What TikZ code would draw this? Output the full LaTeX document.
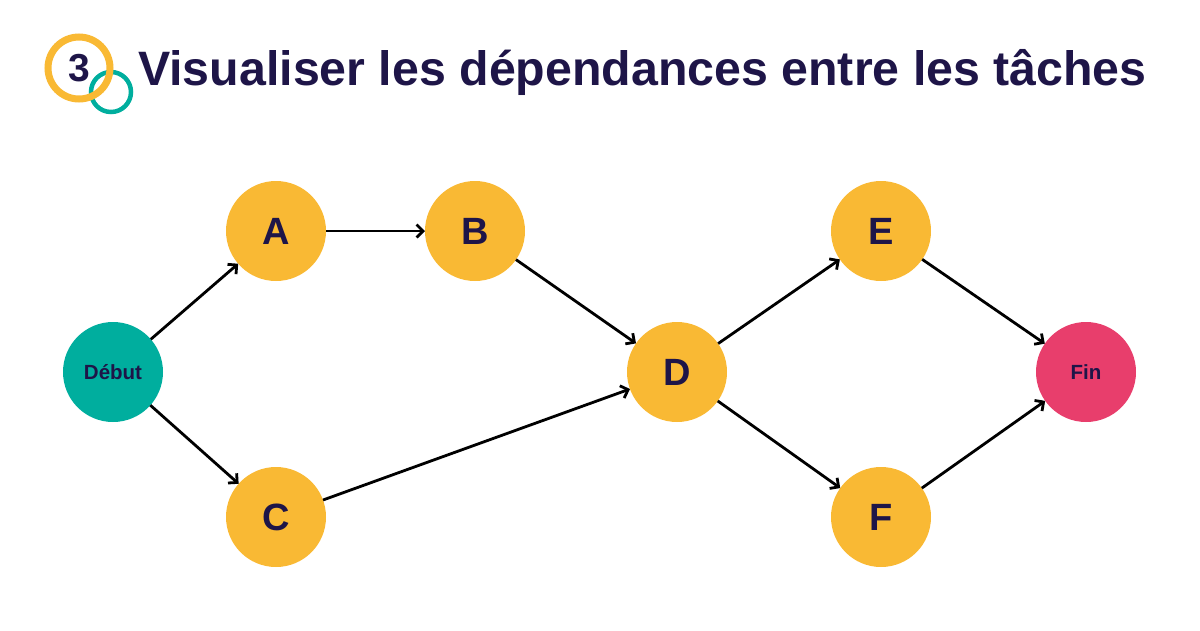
\documentclass[tikz,border=0pt]{standalone}
\usepackage{fontspec}
\setmainfont{Liberation Sans}
\usetikzlibrary{arrows.meta}
\definecolor{navy}{HTML}{1E1548}
\definecolor{gold}{HTML}{F9B934}
\definecolor{teal2}{HTML}{00AE9E}
\definecolor{rose}{HTML}{E83E6C}
\tikzset{
  task/.style={circle, fill=gold, minimum size=100pt, inner sep=0pt, outer sep=0pt, text=navy, font=\fontsize{38}{38}\selectfont\bfseries},
  endpt/.style={circle, minimum size=100pt, inner sep=0pt, outer sep=0pt, text=navy, font=\fontsize{20.5}{20.5}\selectfont\bfseries},
  link/.style={-{Straight Barb[length=6.5pt,width=13pt,line width=2.8pt]}, line width=2.8pt, black},
}
\begin{document}
\begin{tikzpicture}[x=1pt,y=-1pt]
\useasboundingbox (0,0) rectangle (1200,630);
% logo
\node[draw=teal2, line width=4.5pt, circle, minimum size=40pt, inner sep=0pt] (ringb) at (111,92) {};
\node[draw=gold, line width=7pt, circle, minimum size=62pt, inner sep=0pt] (ringa) at (79,68) {};
\node[text=navy, font=\fontsize{39}{39}\selectfont\bfseries] (num) at (79.5,68) {3};
\node[anchor=base west, text=navy, font=\fontsize{48.3}{48.3}\selectfont\bfseries, inner sep=0pt] (title) at (138,85) {Visualiser les dépendances entre les tâches};
% nodes
\node[endpt, fill=teal2] (deb) at (113,372) {Début};
\node[task] (a) at (276,231) {A};
\node[task] (b) at (475,231) {B};
\node[task] (c) at (276,517) {C};
\node[task] (d) at (677,372) {D};
\node[task] (e) at (881,231) {E};
\node[task] (f) at (881,517) {F};
\node[endpt, fill=rose] (fin) at (1086,372) {Fin};
% links
\draw[link] (deb) -- (a);
\draw[link] (deb) -- (c);
\draw[link] (a) -- (b);
\draw[link] (b) -- (d);
\draw[link] (c) -- (d);
\draw[link] (d) -- (e);
\draw[link] (d) -- (f);
\draw[link] (e) -- (fin);
\draw[link] (f) -- (fin);
\end{tikzpicture}
\end{document}
